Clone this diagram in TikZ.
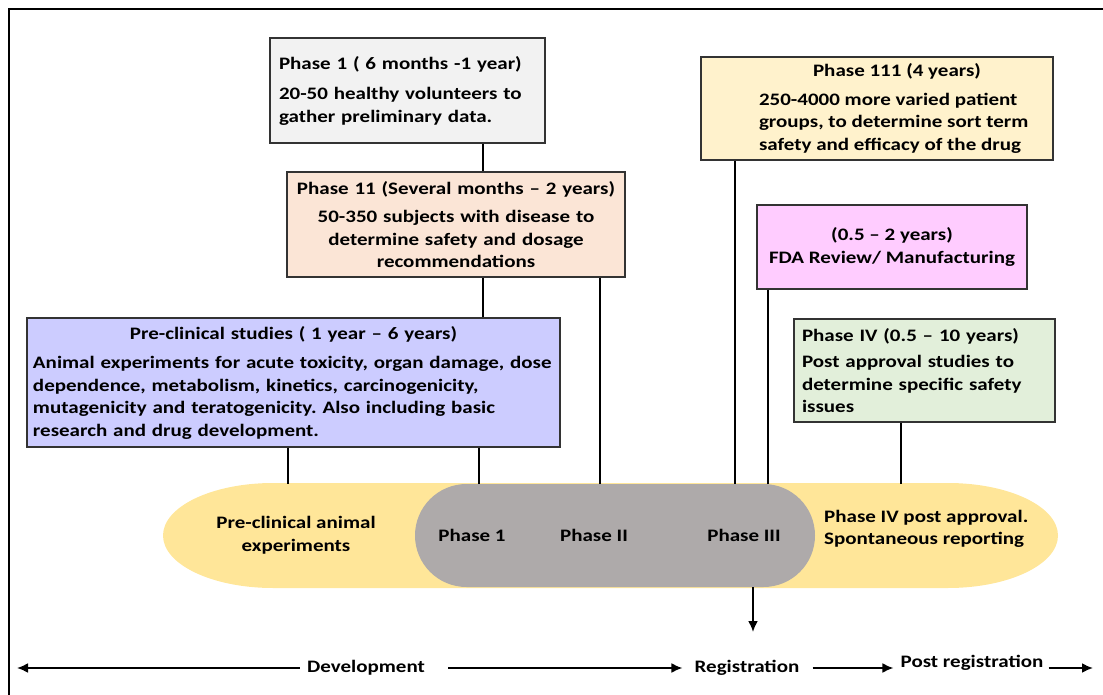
\documentclass[tikz,border=0pt]{standalone}
\usepackage{fontspec}
\setmainfont{Carlito}[FakeStretch=1.2]
\usetikzlibrary{arrows.meta}

\setlength{\parindent}{0pt}
\frenchspacing

\definecolor{phonefill}{HTML}{F2F2F2}
\definecolor{phtwofill}{HTML}{FBE5D6}
\definecolor{prefill}{HTML}{CCCCFF}
\definecolor{phthreefill}{HTML}{FFF2CC}
\definecolor{fdafill}{HTML}{FFCCFF}
\definecolor{phfourfill}{HTML}{E2EFDA}
\definecolor{trackfill}{HTML}{FFE699}
\definecolor{corefill}{HTML}{AEAAAA}

\newcommand{\bodyfont}{\fontsize{17.5}{22.5}\selectfont\bfseries}

\tikzset{
    phasebox/.style={draw=black!80, line width=1.3pt, inner ysep=0pt, font=\bodyfont},
    link/.style={line width=1.5pt},
    timearrow/.style={line width=2pt, -{Latex[length=11pt,width=10pt]}},
    tag/.style={font=\bodyfont, inner sep=0pt},
}

\begin{document}
\begin{tikzpicture}[x=1pt, y=-1pt]
    \useasboundingbox (0,0) rectangle (1103,695);

    % Frame
    \draw[line width=1.6pt] (9,695) -- (9,9) -- (1103,9);

    % Phase boxes
    \node[phasebox, fill=phonefill, minimum width=275pt, minimum height=105pt,
          text width=257pt, inner xsep=9pt, align=left] (ph1) at (407.5,90.5)
        {Phase 1 ( 6 months -1 year)\\[8pt] 20-50 healthy volunteers to\\ gather preliminary data.};

    \node[phasebox, fill=phtwofill, minimum width=338pt, minimum height=105pt,
          text width=326pt, inner xsep=6pt, align=center] (ph2) at (456,224.5)
        {Phase 11 (Several months -- 2 years)\\[6pt] 50-350 subjects with disease to\\
         determine safety and dosage\\ recommendations};

    \node[phasebox, fill=prefill, minimum width=533pt, minimum height=129pt,
          text width=521pt, inner xsep=6pt] (pre) at (293.5,382.5)
        {\centering Pre-clinical studies ( 1 year -- 6 years)\par\vspace{7pt}
         \raggedright Animal experiments for acute toxicity, organ damage, dose\\
         dependence, metabolism, kinetics, carcinogenicity,\\
         mutagenicity and teratogenicity. Also including basic\\
         research and drug development.};

    \node[phasebox, fill=phthreefill, minimum width=352pt, minimum height=103pt,
          inner xsep=0pt] (ph3) at (877,108.5)
        {\hspace*{40pt}\parbox{276pt}{\centering Phase 111 (4 years)\par\vspace{6pt}
         \raggedright 250-4000 more varied patient\\ groups, to determine sort term\\
         safety and efficacy of the drug}};

    \node[phasebox, fill=fdafill, minimum width=270pt, minimum height=84pt,
          align=center] (fda) at (892,247)
        {(0.5 -- 2 years)\\ FDA Review/ Manufacturing};

    \node[phasebox, fill=phfourfill, minimum width=261pt, minimum height=103pt,
          text width=245pt, inner xsep=8pt, align=left] (ph4) at (924.5,370.5)
        {Phase IV (0.5 -- 10 years)\\[4pt] Post approval studies to\\
         determine specific safety\\ issues};

    % Timeline track
    \fill[trackfill] (273,483) -- (948,483)
        arc[start angle=-90, end angle=90, x radius=110, y radius=52.5]
        -- (273,588)
        arc[start angle=90, end angle=270, x radius=110, y radius=52.5] -- cycle;
    \node[fill=corefill, rounded corners=51.5pt, minimum width=400pt,
          minimum height=103pt] (core) at (615,535.5) {};

    \node[tag, align=center] (preanim) at (296,535) {Pre-clinical animal\\ experiments};
    \node[tag] (tph1) at (472,535) {Phase 1};
    \node[tag] (tph2) at (594,535) {Phase II};
    \node[tag] (tph3) at (744,535) {Phase III};
    \node[tag, align=left, anchor=west] (tph4) at (824,529)
        {Phase IV post approval.\\ Spontaneous reporting};

    % Links between boxes
    \foreach \x/\from/\to in {483/ph1/ph2, 483/ph2/pre} {
        \draw[link] (\x,0 |- \from.south) -- (\x,0 |- \to.north);
    }
    % Links down to the track
    \foreach \x/\from in {600/ph2, 288/pre, 479/pre, 735/ph3, 768/fda, 901/ph4} {
        \draw[link] (\x,0 |- \from.south) -- (\x,0 |- core.north);
    }

    % Stages along the bottom
    \node[tag] (dev) at (366,668) {Development};
    \node[tag] (reg) at (747,668) {Registration};
    \node[tag] (post) at (972,663) {Post registration};
    \coordinate (devend) at (17,668);
    \coordinate (postend) at (1093,668);
    \coordinate (regdrop) at (753,632);

    \draw[timearrow] (753,0 |- core.south) -- (regdrop);
    \draw[timearrow] ([xshift=-7pt]dev.west) -- (devend);
    \draw[timearrow] ([xshift=23pt]dev.east) -- ([xshift=-12pt]reg.west);
    \draw[timearrow] ([xshift=13pt]reg.east) -- ([xshift=-7pt]post.west |- reg.east);
    \draw[timearrow] ([xshift=5pt]post.east |- reg.east) -- (postend);

\end{tikzpicture}
\end{document}
